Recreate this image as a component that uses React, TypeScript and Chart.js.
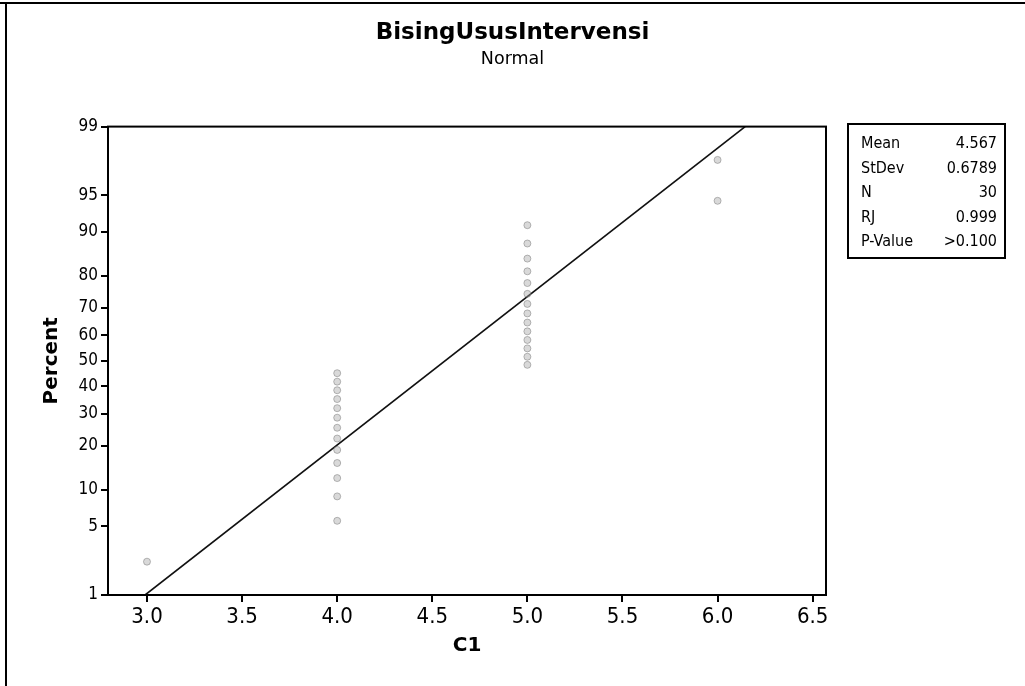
import React, { useEffect, useRef } from "react";
import { Chart, LinearScale, registerables } from "chart.js";

Chart.register(...registerables);

// ---- data ----
const c1Values = [3, 4, 4, 4, 4, 4, 4, 4, 4, 4, 4, 4, 4, 4, 5, 5, 5, 5, 5, 5, 5, 5, 5, 5, 5, 5, 5, 5, 6, 6];
const percentValues = [
  2.3, 5.6, 8.9, 12.2, 15.5, 18.8, 22.0, 25.3, 28.6, 31.9, 35.2, 38.5, 41.8, 45.1,
  48.4, 51.6, 54.9, 58.2, 61.5, 64.8, 68.1, 71.4, 74.7, 78.0, 81.3, 84.5, 87.8, 91.1,
  94.4, 97.7,
];
const fitLineX = [2.99, 6.145];
const fitLinePercent = [1, 99];
const xTickValues = [3.0, 3.5, 4.0, 4.5, 5.0, 5.5, 6.0, 6.5];
const yTickValues = [1, 5, 10, 20, 30, 40, 50, 60, 70, 80, 90, 95, 99];
const statLabels = ["Mean", "StDev", "N", "RJ", "P-Value"];
const statValues = ["4.567", "0.6789", "30", "0.999", ">0.100"];
const titleText = "BisingUsusIntervensi";
const subtitleText = "Normal";
const xTitle = "C1";
const yTitle = "Percent";

const FONT = '"DejaVu Sans Condensed", "DejaVu Sans", sans-serif';
const FONT_WIDE = '"DejaVu Sans", sans-serif';

// inverse normal CDF (Acklam)
function probit(p: number): number {
  const a = [-3.969683028665376e1, 2.209460984245205e2, -2.759285104469687e2, 1.38357751867269e2, -3.066479806614716e1, 2.506628277459239];
  const b = [-5.447609879822406e1, 1.615858368580409e2, -1.556989798598866e2, 6.680131188771972e1, -1.328068155288572e1];
  const c = [-7.784894002430293e-3, -3.223964580411365e-1, -2.400758277161838, -2.549671010243908, 4.374664141464968, 2.938163982698783];
  const d = [7.784695709041462e-3, 3.224671290700398e-1, 2.445134137142996, 3.754408661907416];
  const plow = 0.02425;
  const phigh = 1 - plow;
  if (p <= 0) return -8;
  if (p >= 1) return 8;
  if (p < plow) {
    const q = Math.sqrt(-2 * Math.log(p));
    return (((((c[0] * q + c[1]) * q + c[2]) * q + c[3]) * q + c[4]) * q + c[5]) / ((((d[0] * q + d[1]) * q + d[2]) * q + d[3]) * q + 1);
  }
  if (p > phigh) {
    const q = Math.sqrt(-2 * Math.log(1 - p));
    return -(((((c[0] * q + c[1]) * q + c[2]) * q + c[3]) * q + c[4]) * q + c[5]) / ((((d[0] * q + d[1]) * q + d[2]) * q + d[3]) * q + 1);
  }
  const q = p - 0.5;
  const r = q * q;
  return ((((((a[0] * r + a[1]) * r + a[2]) * r + a[3]) * r + a[4]) * r + a[5]) * q) / (((((b[0] * r + b[1]) * r + b[2]) * r + b[3]) * r + b[4]) * r + 1);
}

function normCdf(z: number): number {
  const t = 1 / (1 + 0.2316419 * Math.abs(z));
  const dd = 0.3989423 * Math.exp((-z * z) / 2);
  const pr = dd * t * (0.3193815 + t * (-0.3565638 + t * (1.781478 + t * (-1.821256 + t * 1.330274))));
  return z > 0 ? 1 - pr : pr;
}

// Normal probability scale (values in percent)
class ProbabilityScale extends (LinearScale as any) {
  static id = "probability";
  static defaults = (LinearScale as any).defaults;
  determineDataLimits() {
    const o: any = (this as any).options;
    (this as any).min = probit(o.min / 100);
    (this as any).max = probit(o.max / 100);
  }
  buildTicks() {
    return yTickValues.map((v) => ({ value: v }));
  }
  getPixelForValue(v: number) {
    if (v === null || v === undefined || isNaN(v)) return NaN;
    return super.getPixelForValue(probit(v / 100));
  }
  getValueForPixel(px: number) {
    return 100 * normCdf(super.getValueForPixel(px));
  }
}
Chart.register(ProbabilityScale as any);

const framePlugin = {
  id: "framePlugin",
  afterDraw(chart: any) {
    const ctx = chart.ctx;
    const a = chart.chartArea;
    ctx.save();
    // plot frame
    ctx.strokeStyle = "#000";
    ctx.lineWidth = 2;
    ctx.strokeRect(a.left, a.top, a.right - a.left, a.bottom - a.top);
    // outer page border (top & left)
    ctx.beginPath();
    ctx.moveTo(0, 3);
    ctx.lineTo(chart.width, 3);
    ctx.moveTo(6, 3);
    ctx.lineTo(6, chart.height);
    ctx.stroke();
    // statistics box
    const bx = 848, by = 124, bw = 157, bh = 134;
    ctx.strokeRect(bx, by, bw, bh);
    ctx.fillStyle = "#000";
    ctx.font = `16px ${FONT}`;
    ctx.textBaseline = "middle";
    statLabels.forEach((lab, i) => {
      const y = by + 20 + i * 24.5;
      ctx.textAlign = "left";
      ctx.fillText(lab, bx + 13, y);
      ctx.textAlign = "right";
      ctx.fillText(statValues[i], bx + bw - 8, y);
    });
    ctx.restore();
  },
};

export default function App() {
  const ref = useRef<HTMLCanvasElement | null>(null);
  useEffect(() => {
    document.body.style.margin = "0";
    const canvas = ref.current;
    if (!canvas) return;
    const points = c1Values.map((x, i) => ({ x, y: percentValues[i] }));
    const line = fitLineX.map((x, i) => ({ x, y: fitLinePercent[i] }));
    const chart = new Chart(canvas, {
      type: "scatter",
      data: {
        datasets: [
          {
            label: "Data",
            data: points,
            pointRadius: 3.5,
            pointBackgroundColor: "rgba(160,160,160,0.4)",
            pointBorderColor: "rgba(120,120,120,0.5)",
            pointBorderWidth: 1,
            showLine: false,
          },
          {
            label: "Fit",
            data: line,
            showLine: true,
            pointRadius: 0,
            borderColor: "#111",
            borderWidth: 1.6,
          },
        ],
      },
      options: {
        animation: false,
        responsive: false,
        devicePixelRatio: 1,
        events: [],
        layout: { padding: 0 },
        plugins: {
          legend: { display: false },
          tooltip: { enabled: false },
          title: {
            display: true,
            text: titleText,
            color: "#000",
            font: { family: FONT_WIDE, size: 23, weight: "bold" },
            padding: { top: 19, bottom: 2 },
          },
          subtitle: {
            display: true,
            text: subtitleText,
            color: "#000",
            font: { family: FONT_WIDE, size: 17.5 },
            padding: { top: 0, bottom: 57 },
          },
        },
        scales: {
          x: {
            type: "linear",
            min: 2.795,
            max: 6.57,
            afterFit: (s: any) => {
              s.height = 91;
            },
            afterBuildTicks: (s: any) => {
              s.ticks = xTickValues.map((v) => ({ value: v }));
            },
            grid: { drawOnChartArea: false, drawTicks: true, tickLength: 7, color: "#000", lineWidth: 2 },
            border: { display: true, color: "#000", width: 2 },
            ticks: {
              color: "#000",
              font: { family: FONT, size: 22 },
              padding: 2,
              maxRotation: 0,
              callback: (v: any) => Number(v).toFixed(1),
            },
            title: {
              display: true,
              text: xTitle,
              color: "#000",
              font: { family: FONT_WIDE, size: 20, weight: "bold" },
              padding: { top: 0, bottom: 28 },
            },
          },
          y: {
            type: "probability" as any,
            min: 1,
            max: 99,
            afterFit: (s: any) => {
              s.width = 108;
            },
            grid: { drawOnChartArea: false, drawTicks: true, tickLength: 7, color: "#000", lineWidth: 2 },
            border: { display: true, color: "#000", width: 2 },
            ticks: {
              color: "#000",
              font: { family: FONT, size: 17 },
              padding: 3,
              callback: (v: any) => String(v),
            },
            title: {
              display: true,
              text: yTitle,
              color: "#000",
              font: { family: FONT_WIDE, size: 20, weight: "bold" },
              padding: { top: 40, bottom: 0 },
            },
          } as any,
          side: {
            type: "linear",
            position: "right",
            display: true,
            min: 0,
            max: 1,
            afterFit: (s: any) => {
              s.width = 199;
            },
            grid: { display: false, drawTicks: false },
            border: { display: false },
            ticks: { display: false },
            title: { display: false },
          },
        },
      },
      plugins: [framePlugin],
    } as any);
    return () => chart.destroy();
  }, []);
  return (
    <div style={{ width: 1025, height: 686, background: "#fff" }}>
      <canvas ref={ref} width={1025} height={686} style={{ display: "block" }} />
    </div>
  );
}
